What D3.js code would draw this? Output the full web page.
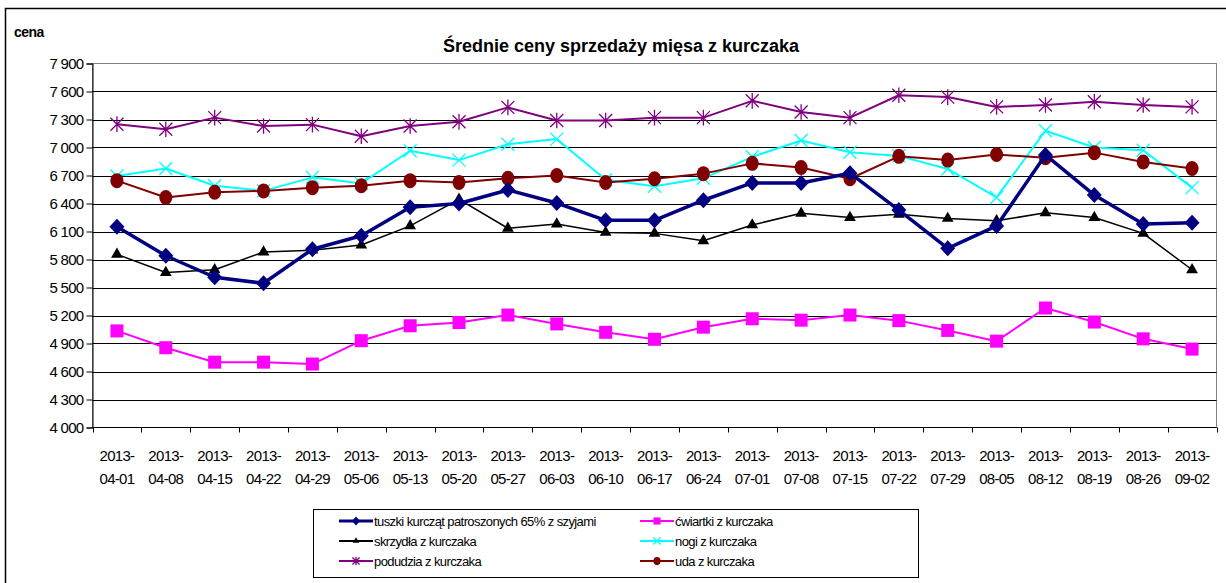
<!DOCTYPE html>
<html>
<head>
<meta charset="utf-8">
<style>
    body { margin: 0; background: white; font-family: "Liberation Sans", Arial, sans-serif; }
    svg { display: block; }
</style>
<script src="https://cdn.jsdelivr.net/npm/d3@7/dist/d3.min.js"></script>
</head>
<body>
<svg id="chart"></svg>
<script>

// dates (two-line labels)
let dates = ["2013-04-01","2013-04-08","2013-04-15","2013-04-22","2013-04-29","2013-05-06","2013-05-13","2013-05-20",
    "2013-05-27","2013-06-03","2013-06-10","2013-06-17","2013-06-24","2013-07-01","2013-07-08","2013-07-15",
    "2013-07-22","2013-07-29","2013-08-05","2013-08-12","2013-08-19","2013-08-26","2013-09-02"]

let yTicks = [4000,4300,4600,4900,5200,5500,5800,6100,6400,6700,7000,7300,7600,7900]

let tuszki = [6150,5840,5610,5545,5910,6055,6360,6400,6545,6405,6220,6220,6435,6620,6620,6725,6330,5920,6160,6920,6490,6180,6195]
let cwiartki = [5035,4855,4700,4700,4680,4930,5090,5125,5205,5110,5020,4945,5075,5165,5150,5205,5145,5040,4925,5280,5130,4950,4840]
let skrzydla = [5855,5660,5690,5880,5900,5955,6160,6445,6135,6180,6090,6080,6000,6170,6295,6250,6285,6240,6215,6300,6250,6080,5690]
let nogi = [6695,6775,6590,6535,6680,6615,6965,6865,7035,7090,6655,6585,6670,6900,7075,6950,6910,6770,6465,7180,7000,6970,6570]
let podudzia = [7250,7195,7320,7230,7245,7120,7230,7275,7430,7290,7290,7320,7320,7500,7380,7320,7560,7540,7435,7455,7490,7455,7435]
let uda = [6645,6465,6520,6535,6570,6590,6645,6625,6670,6700,6625,6665,6720,6830,6785,6665,6905,6865,6925,6890,6945,6845,6775]

let series = [
    {name: "tuszki kurcząt patroszonych 65% z szyjami", values: tuszki, color: "#000080", width: 3.5, marker: "diamond"},
    {name: "ćwiartki z kurczaka", values: cwiartki, color: "#FF00FF", width: 2, marker: "square"},
    {name: "skrzydła z kurczaka", values: skrzydla, color: "#000000", width: 1.5, marker: "triangle"},
    {name: "nogi z kurczaka", values: nogi, color: "#00FFFF", width: 2, marker: "x"},
    {name: "podudzia z kurczaka", values: podudzia, color: "#800080", width: 2, marker: "star"},
    {name: "uda z kurczaka", values: uda, color: "#800000", width: 2, marker: "circle"}
]

// drawing order: later on top
let drawOrder = ["podudzia z kurczaka","nogi z kurczaka","uda z kurczaka","skrzydła z kurczaka","ćwiartki z kurczaka","tuszki kurcząt patroszonych 65% z szyjami"]

let width = 1226, height = 583
let plotL = 92.5, plotR = 1216.5, plotT = 63.5, plotB = 427.5

let svg = d3.select("#chart").attr("width", width).attr("height", height)

// outer frame (cut by the picture on right and bottom)
svg.append("rect")
    .attr("x", 5.5).attr("y", 8.5)
    .attr("width", 1240).attr("height", 600)
    .attr("fill", "white").attr("stroke", "black").attr("stroke-width", 1.5)

let x = d3.scaleBand().domain(dates).range([plotL, plotR])
let y = d3.scaleLinear().domain([4000, 7900]).range([plotB, plotT])

// plot border (gray)
svg.append("rect")
    .attr("x", plotL).attr("y", plotT)
    .attr("width", plotR - plotL).attr("height", plotB - plotT)
    .attr("fill", "white").attr("stroke", "#808080").attr("stroke-width", 1)

// gridlines
svg.append("g").selectAll("line").data(yTicks.filter(d => d > 4000 && d < 7900))
    .enter().append("line")
    .attr("x1", plotL).attr("x2", plotR)
    .attr("y1", d => Math.round(y(d)) + 0.5).attr("y2", d => Math.round(y(d)) + 0.5)
    .attr("stroke", "#000").attr("stroke-width", 1)

// y axis
let yAxis = svg.append("g")
    .attr("transform", `translate(${plotL},0)`)
    .call(d3.axisLeft(y).tickValues(yTicks).tickSize(6).tickPadding(3)
        .tickFormat(d => d3.format(",")(d).replace(",", " ")))
yAxis.select(".domain").attr("stroke", "#000")
yAxis.selectAll("text").attr("font-size", 15).attr("fill", "#000")
    .attr("font-family", "Liberation Sans, Arial, sans-serif").attr("letter-spacing", -0.7)

// x axis: ticks between categories
let bounds = dates.map(d => x(d)).concat([plotR])
svg.append("line").attr("x1", plotL).attr("x2", plotR).attr("y1", plotB).attr("y2", plotB)
    .attr("stroke", "#000")
svg.append("g").selectAll("line").data(bounds).enter().append("line")
    .attr("x1", d => Math.round(d) + 0.5).attr("x2", d => Math.round(d) + 0.5)
    .attr("y1", plotB).attr("y2", plotB + 5)
    .attr("stroke", "#000")

let xl = svg.append("g").selectAll("text").data(dates).enter().append("text")
    .attr("x", d => x(d) + x.bandwidth() / 2)
    .attr("text-anchor", "middle")
    .attr("font-size", 15)
    .attr("letter-spacing", -0.7)
xl.append("tspan").attr("x", d => x(d) + x.bandwidth() / 2).attr("y", 461).text(d => d.slice(0, 5))
xl.append("tspan").attr("x", d => x(d) + x.bandwidth() / 2).attr("y", 484).text(d => d.slice(5))

// title and axis name
svg.append("text").attr("x", 621).attr("y", 52).attr("text-anchor", "middle")
    .attr("font-size", 18).attr("font-weight", "bold")
    .text("Średnie ceny sprzedaży mięsa z kurczaka")
svg.append("text").attr("x", 14).attr("y", 37)
    .attr("font-size", 14).attr("font-weight", "bold").attr("letter-spacing", -0.5)
    .text("cena")

function drawMarker(g, type, color, s) {
    if (type == "diamond") {
        g.append("path").attr("d", `M0,${-8*s}L${7.5*s},0L0,${8*s}L${-7.5*s},0Z`).attr("fill", color)
    } else if (type == "square") {
        g.append("rect").attr("x", -6.5*s).attr("y", -6.5*s).attr("width", 13*s).attr("height", 13*s).attr("fill", color)
    } else if (type == "triangle") {
        g.append("path").attr("d", d3.symbol(d3.symbolTriangle, 60*s*s)).attr("fill", color)
    } else if (type == "circle") {
        g.append("ellipse").attr("rx", 6.5*s).attr("ry", 7.5*s).attr("fill", color)
    } else if (type == "x") {
        let r = 6.5*s
        g.append("path").attr("d", `M${-r},${-r}L${r},${r}M${-r},${r}L${r},${-r}`)
            .attr("stroke", color).attr("stroke-width", 1.3).attr("fill", "none")
    } else if (type == "star") {
        let r = 6.5*s
        g.append("path").attr("d", `M${-r},${-r}L${r},${r}M${-r},${r}L${r},${-r}M0,${-r*1.2}L0,${r*1.2}`)
            .attr("stroke", color).attr("stroke-width", 1.3).attr("fill", "none")
    }
}

let line = d3.line()
    .x((d, i) => x(dates[i]) + x.bandwidth() / 2)
    .y(d => y(d))

let plot = svg.append("g")
drawOrder.forEach(name => {
    let s = series.find(d => d.name == name)
    let g = plot.append("g")
    g.append("path").datum(s.values)
        .attr("d", line)
        .attr("fill", "none")
        .attr("stroke", s.color)
        .attr("stroke-width", s.width)
        .attr("stroke-linejoin", "round")
    g.selectAll("g.m").data(s.values).enter().append("g")
        .attr("class", "m")
        .attr("transform", (d, i) => `translate(${x(dates[i]) + x.bandwidth() / 2},${y(d)})`)
        .each(function() { drawMarker(d3.select(this), s.marker, s.color, 1) })
})

// legend
let legend = svg.append("g")
legend.append("rect").attr("x", 313.5).attr("y", 509.5).attr("width", 605).attr("height", 68)
    .attr("fill", "white").attr("stroke", "#000").attr("stroke-width", 1)

let colX = [339, 640]
let rowY = [521, 541, 561]
series.forEach((s, i) => {
    let cx = colX[i % 2], cy = rowY[Math.floor(i / 2)]
    let g = legend.append("g")
    g.append("line").attr("x1", cx).attr("x2", cx + 34).attr("y1", cy).attr("y2", cy)
        .attr("stroke", s.color).attr("stroke-width", s.width > 2 ? 3 : 2)
    let m = g.append("g").attr("transform", `translate(${cx + 17},${cy})`)
    drawMarker(m, s.marker, s.color, 0.55)
    g.append("text").attr("x", cx + 35).attr("y", cy + 5)
        .attr("font-size", 13).attr("letter-spacing", -0.6)
        .text(s.name)
})

</script>
</body>
</html>
